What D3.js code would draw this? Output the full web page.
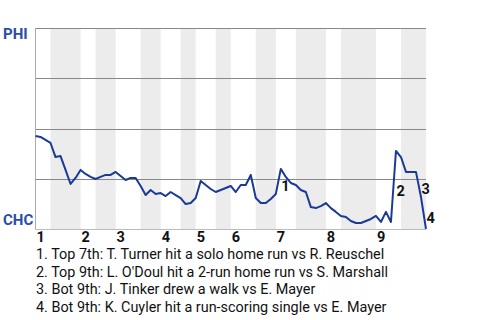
<!DOCTYPE html>
<html>
<head>
<meta charset="utf-8">
<script src="https://cdn.jsdelivr.net/npm/d3@7"></script>
<style>
  body { margin: 0; background: #fff; }
  svg { display: block; font-family: Roboto, "Noto Sans", sans-serif; }
</style>
</head>
<body>
<svg width="480" height="320"></svg>
<script>
// win probability (for PHI) after each plate appearance
const winProb = [
  0.463, 0.458, 0.443, 0.428, 0.358, 0.363, 0.294, 0.224, 0.254, 0.294,
  0.274, 0.259, 0.249, 0.259, 0.269, 0.269, 0.284, 0.264, 0.244, 0.254,
  0.254, 0.214, 0.169, 0.194, 0.174, 0.179, 0.164, 0.184, 0.169, 0.154,
  0.124, 0.129, 0.154, 0.239, 0.219, 0.199, 0.184, 0.194, 0.204, 0.214,
  0.184, 0.219, 0.219, 0.269, 0.154, 0.129, 0.129, 0.149, 0.174, 0.299,
  0.259, 0.229, 0.219, 0.194, 0.184, 0.109, 0.104, 0.114, 0.129, 0.104,
  0.085, 0.065, 0.060, 0.040, 0.030, 0.030, 0.040, 0.050, 0.065, 0.035,
  0.085, 0.035, 0.388, 0.358, 0.284, 0.284, 0.284, 0.159, 0.000
];

// plate appearance index where each half inning starts (top 1 .. bot 9), plus the end
const halfStarts = [0, 3, 9, 12, 16, 21, 25, 29, 32, 36, 39, 44, 48, 52, 58, 61, 68, 73, 78];
const innings = ["1", "2", "3", "4", "5", "6", "7", "8", "9"];

const teamTop = "PHI";
const teamBottom = "CHC";
const gridValues = [0.25, 0.5, 0.75, 1];

const keyEvents = [49, 72, 77, 78];
const keyTexts = [
  "1. Top 7th: T. Turner hit a solo home run vs R. Reuschel",
  "2. Top 9th: L. O'Doul hit a 2-run home run vs S. Marshall",
  "3. Bot 9th: J. Tinker drew a walk vs E. Mayer",
  "4. Bot 9th: K. Cuyler hit a run-scoring single vs E. Mayer"
];

const svg = d3.select("svg");
const plot = {left: 35.5, right: 426, top: 28, bottom: 229};

const x = d3.scaleLinear().domain([0, winProb.length - 1]).range([plot.left, plot.right]);
const y = d3.scaleLinear().domain([0, 1]).range([plot.bottom, plot.top]);

// shaded bottom halves
const bands = [];
for (let i = 1; i < halfStarts.length - 1; i += 2) {
  bands.push([halfStarts[i], halfStarts[i + 1]]);
}
svg.append("g").selectAll("rect")
  .data(bands)
  .join("rect")
    .attr("x", d => x(d[0]))
    .attr("width", d => x(d[1]) - x(d[0]))
    .attr("y", plot.top)
    .attr("height", plot.bottom - plot.top)
    .attr("fill", "#ececec");

// grid
svg.append("g").selectAll("line")
  .data(gridValues)
  .join("line")
    .attr("x1", plot.left).attr("x2", plot.right)
    .attr("y1", d => Math.round(y(d)) + 0.5)
    .attr("y2", d => Math.round(y(d)) + 0.5)
    .attr("stroke", "#888")
    .attr("stroke-width", 1);

// axes lines
svg.append("line")
  .attr("x1", plot.left).attr("x2", plot.left)
  .attr("y1", plot.top).attr("y2", plot.bottom + 0.5)
  .attr("stroke", "#aaa");
svg.append("line")
  .attr("x1", plot.left).attr("x2", plot.right)
  .attr("y1", plot.bottom + 0.5).attr("y2", plot.bottom + 0.5)
  .attr("stroke", "#bbb");

// team labels
svg.append("text").text(teamTop)
  .attr("x", 3).attr("y", 39)
  .attr("font-size", 15).attr("font-weight", "bold")
  .attr("fill", "#2a4ea6");
svg.append("text").text(teamBottom)
  .attr("x", 3).attr("y", 225)
  .attr("font-size", 15).attr("font-weight", "bold")
  .attr("fill", "#2a4ea6");

// win probability line
const line = d3.line()
  .x((d, i) => x(i))
  .y(d => y(d));
svg.append("path")
  .datum(winProb)
  .attr("d", line)
  .attr("fill", "none")
  .attr("stroke", "#1a3a96")
  .attr("stroke-width", 2)
  .attr("stroke-linejoin", "round");

// inning labels
svg.append("g").selectAll("text")
  .data(innings)
  .join("text")
    .attr("x", (d, i) => x(halfStarts[i * 2]) + 1)
    .attr("y", 242)
    .attr("font-size", 14.5)
    .attr("font-weight", "bold")
    .attr("fill", "#111")
    .text(d => d);

// key event markers
svg.append("g").selectAll("text")
  .data(keyEvents)
  .join("text")
    .attr("x", d => x(d) + 0.5)
    .attr("y", d => (y(winProb[d - 1]) + y(winProb[d])) / 2 + 10)
    .attr("font-size", 14.5)
    .attr("font-weight", "bold")
    .attr("fill", "#111")
    .text((d, i) => i + 1);

// key event descriptions
svg.append("g").selectAll("text")
  .data(keyTexts)
  .join("text")
    .attr("x", 36)
    .attr("y", (d, i) => 259 + i * 17.7)
    .attr("font-size", 14.4)
    .attr("fill", "#111")
    .text(d => d);
</script>
</body>
</html>
